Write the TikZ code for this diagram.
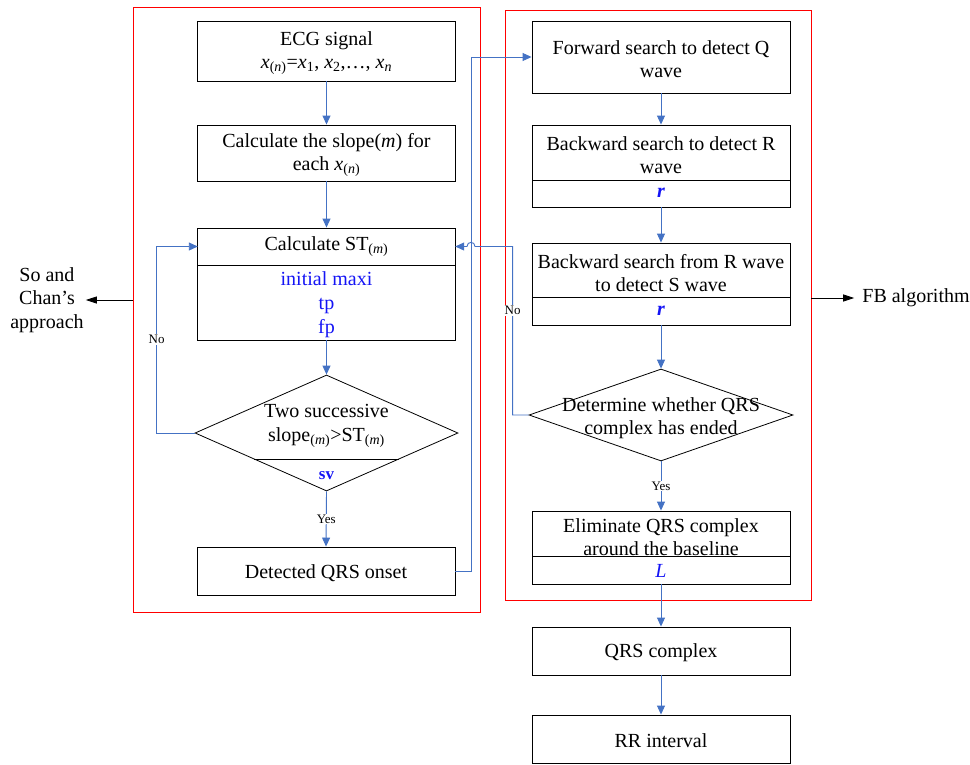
\documentclass[tikz,border=0pt]{standalone}
\usepackage{fontspec}
\setmainfont{Liberation Serif}
\usetikzlibrary{arrows.meta,shapes.geometric}
\definecolor{conn}{RGB}{68,114,196}
\definecolor{bluetxt}{RGB}{20,20,245}
\begin{document}
\begin{tikzpicture}[x=1pt,y=-1pt,
  box/.style={draw=black, line width=0.9pt, inner sep=0pt, align=center, minimum width=258pt},
  txt/.style={inner sep=0pt, align=center, font=\fontsize{20}{23.5}\selectfont},
  btxt/.style={txt, text=bluetxt},
  lbl/.style={inner sep=1pt, fill=white, font=\fontsize{13}{15}\selectfont},
  connline/.style={draw=conn, line width=0.9pt},
  arr/.style={connline, -{Triangle[length=9pt,width=8pt]}},
  frame/.style={draw=red, line width=0.9pt, inner sep=0pt},
  dia/.style={diamond, draw=black, line width=0.8pt, inner sep=0pt},
  sidearr/.style={draw=black, line width=0.8pt, -{Triangle[length=11pt,width=7pt]}}]
\useasboundingbox (0,0) rectangle (970,764);

% frames
\node[frame, minimum width=347pt, minimum height=605pt] (lframe) at (306.5,309.5) {};
\node[frame, minimum width=306pt, minimum height=590pt] (rframe) at (658,305) {};

% left column
\node[box, minimum height=60pt] (ecg) at (326.5,51) {};
\node[txt] (ecgt) at (326.5,53) {ECG signal\\\textit{x}\textsubscript{(\textit{n})}=\textit{x}\textsubscript{1}, \textit{x}\textsubscript{2},\ldots, \textit{x}\textsubscript{\textit{n}}};
\node[box, minimum height=56pt] (slope) at (326.5,153) {};
\node[txt] (slopet) at (326.5,155) {Calculate the slope(\textit{m}) for\\each \textit{x}\textsubscript{(\textit{n})}};
\node[box, minimum height=112pt] (st) at (326.5,284) {};
\draw[line width=0.9pt] (198,265) -- (455,265);
\node[txt, minimum width=257pt] (sttitle) at (326.5,246.5) {Calculate ST\textsubscript{(\textit{m})}};
\node[btxt, font=\fontsize{20}{24}\selectfont] (stvals) at (326.5,305) {initial maxi\\tp\\fp};

\node[dia, minimum width=263pt, minimum height=116pt] (d1) at (326.5,433) {};
\draw[line width=0.8pt] (254,459) -- (399,459);
\node[txt] (d1t) at (326.5,426) {Two successive\\slope\textsubscript{(\textit{m})}{>}ST\textsubscript{(\textit{m})}};
\node[btxt, font=\fontsize{17}{20}\selectfont\bfseries] (sv) at (326.5,476) {sv};

\node[box, minimum height=48pt] (det) at (326,571) {};
\node[txt] (dett) at (326,573) {Detected QRS onset};

% right column
\node[box, minimum height=72pt] (fwd) at (661,57) {};
\node[txt] (fwdt) at (661,59) {Forward search to detect Q\\wave};
\node[box, minimum height=82pt] (rb) at (661,166) {};
\draw[line width=0.9pt] (532,180) -- (790,180);
\node[txt] (rbt) at (661,155) {Backward search to detect R\\wave};
\node[btxt, font=\fontsize{20}{23}\selectfont\bfseries\itshape] (rbr) at (661,193) {r};
\node[box, minimum height=82pt] (sb) at (661,284) {};
\draw[line width=0.9pt] (532,297) -- (790,297);
\node[txt] (sbt) at (661,273) {Backward search from R wave\\to detect S wave};
\node[btxt, font=\fontsize{20}{23}\selectfont\bfseries\itshape] (sbr) at (661,311) {r};

\node[dia, minimum width=264pt, minimum height=92pt] (d2) at (661,415) {};
\node[txt] (d2t) at (661,418) {Determine whether QRS\\complex has ended};

\node[box, minimum height=73pt] (elim) at (661,547.5) {};
\draw[line width=0.9pt] (532,556) -- (790,556);
\node[txt] (elimt) at (661,537) {Eliminate QRS complex\\around the baseline};
\node[btxt, font=\fontsize{20}{23}\selectfont\itshape] (eliml) at (661,571) {L};

\node[box, minimum height=48pt] (qrs) at (661,651) {};
\node[txt] (qrst) at (661,653) {QRS complex};
\node[box, minimum height=48pt] (rr) at (661,739) {};
\node[txt] (rrt) at (661,741) {RR interval};

% side labels
\node[txt] (chan) at (47,300) {So and\\Chan’s\\approach};
\node[txt] (fb) at (916,298) {FB algorithm};

% connectors
\draw[arr] (ecg.south) -- (slope.north);
\draw[arr] (slope.south) -- (st.north);
\draw[arr] (st.south) -- (d1.north);
\draw[arr] (d1.south) -- node[lbl]{Yes} (det.north);
\draw[arr] (d1.west) -- ++(-38,0) |- node[lbl,pos=0.25]{No} (sttitle.west);
\draw[arr] (det.east) -- ++(16,0) |- (fwd.west);

\draw[arr] (fwd.south) -- (rb.north);
\draw[arr] (rb.south) -- (sb.north);
\draw[arr] (sb.south) -- (d2.north);
\draw[arr] (d2.south) -- node[lbl]{Yes} (elim.north);
\draw[arr] (d2.west) -- ++(-16,0) |- node[lbl,pos=0.31]{No} (475,246.5) .. controls (475,241) and (467,241) .. (467,246.5) -- (sttitle.east);
\draw[arr] (elim.south) -- (qrs.north);
\draw[arr] (qrs.south) -- (rr.north);

\draw[sidearr] (lframe.west |- chan.east) -- ([xshift=2pt]chan.east);
\draw[sidearr] (rframe.east |- fb.west) -- ([xshift=-8pt]fb.west);
\end{tikzpicture}
\end{document}
